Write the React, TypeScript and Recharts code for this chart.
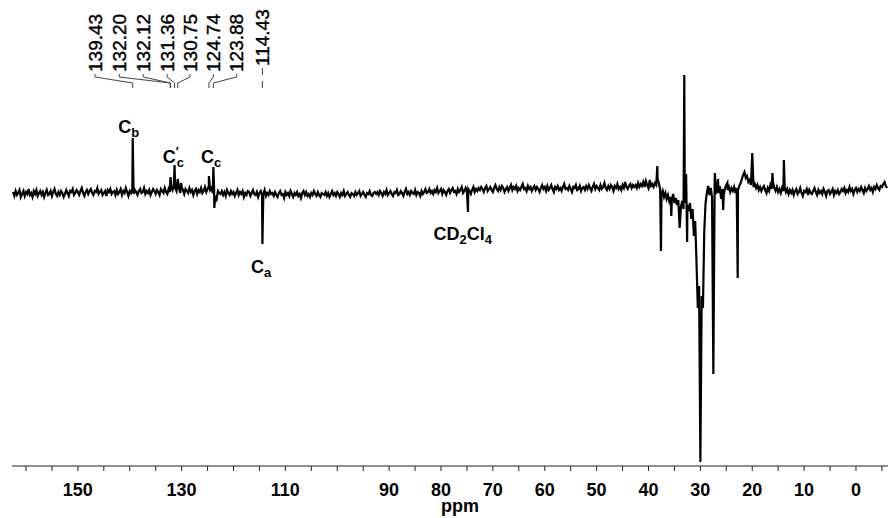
import React from "react";
import {
  LineChart,
  Line,
  XAxis,
  YAxis,
  ReferenceLine,
  ReferenceDot,
} from "recharts";

// 13C spectrum, baseline read every 0.25 ppm from 162.5 down to -6.0 (arbitrary intensity units)
const NOISE_START = 162.5;
const NOISE_STEP = 0.25;
const baseline = [
  // 162.5 -> 152.75
  -1, -5, 0, -4, -2, 1, -6, -3, 0, -5, -1, -3, 2, -4, -2, -6, 0, -3, 1, -5,
  -2, 0, -4, -1, -6, -2, 1, -4, -3, 0, -5, -1, 2, -3, -5, -1, -4, 0, -2, -6,
  // 152.5 -> 142.75
  -3, 1, -2, -5, 0, -1, 2, -4, -2, 1, -1, -4, 0, 3, -2, -5, -1, 1, -3, 0,
  2, -2, -4, 0, -1, 3, -3, -1, 1, -4, -2, 0, -5, 1, -1, 2, -3, -1, 0, -4,
  // 142.5 -> 132.75
  1, -3, -1, 2, -4, 0, -2, 3, -1, -5, 0, -2, 2, -3, 1, -1, -4, 0, 2, -2,
  -1, 3, -3, 0, -2, 1, -4, -1, 2, 0, -3, 1, -1, -4, 2, 0, -2, 3, -1, -3,
  // 132.5 -> 122.75
  2, -1, 4, 1, 6, 3, 0, 5, 2, -2, 4, 1, -3, 2, 0, -2, 3, -1, 1, -4,
  0, 2, -3, 1, -1, 3, -2, 0, 4, -1, 2, 5, 1, 3, -2, 4, -5, -8, 0, -2,
  // 122.5 -> 112.75
  -3, 0, -4, -1, -5, 1, -2, -4, 0, -3, -1, -5, -2, 1, -4, -1, -3, 0, -6, -2,
  -4, 0, -1, -5, -2, 1, -3, -4, -1, -6, -2, 0, -4, -3, 1, -5, -2, -4, 0, -3,
  // 112.5 -> 102.75
  -2, -5, -1, -4, -6, -2, 0, -4, -3, -7, -1, -4, -2, -5, 0, -3, -6, -2, -4, -1,
  -5, -3, -7, -2, 0, -4, -1, -5, -3, -6, -2, -4, 0, -3, -5, -1, -4, -6, -2, -3,
  // 102.5 -> 92.75
  -4, -1, -5, -2, -6, -3, 0, -4, -2, -5, -1, -3, -6, -2, -4, 0, -5, -3, -1, -4,
  -6, -2, -3, -5, -1, -4, -2, 0, -5, -3, -1, -4, -6, -2, -3, 0, -4, -5, -2, -1,
  // 92.5 -> 82.75
  -3, -1, -4, 0, -2, -5, -1, -3, 1, -4, -2, 0, -3, -5, -1, -2, 1, -4, -3, 0,
  -2, -5, -1, 2, -3, -1, -4, 0, -2, -3, 1, -4, -1, -2, -5, 0, -3, -1, 2, -2,
  // 82.5 -> 72.75
  -1, 2, -2, 0, -3, 1, -1, 3, -2, 0, 2, -3, 1, -1, -4, 0, 2, -2, 1, 3,
  -1, 0, -3, 2, -1, 1, 4, -2, 0, 3, -1, 2, 0, -3, 1, 4, -1, 2, 0, 3,
  // 72.5 -> 62.75
  1, 4, 2, -1, 3, 5, 0, 2, 4, 1, -1, 3, 6, 2, 0, 4, 1, 5, 3, -1,
  2, 4, 0, 3, 6, 1, 4, 2, 5, 0, 3, 1, 4, 7, 2, 3, 0, 5, 2, 4,
  // 62.5 -> 52.75
  0, 3, 5, 1, 4, 2, -1, 3, 6, 2, 4, 0, 5, 1, 3, 6, 2, -1, 4, 2,
  5, 1, 3, 0, 4, 7, 2, 3, 1, 5, 2, -1, 4, 3, 6, 1, 2, 5, 0, 3,
  // 52.5 -> 42.75
  4, 1, 5, 2, 6, 3, 0, 4, 7, 2, 5, 3, 1, 6, 2, 4, 8, 3, 1, 5,
  2, 6, 4, 0, 5, 3, 7, 2, 4, 1, 6, 3, 9, 4, 2, 5, 7, 3, 6, 4,
  // 42.5 -> 32.75
  6, 3, 8, 4, 7, 5, 9, 4, 10, 6, 3, 11, 5, 7, 4, 8, 6, 12, 8, 2,
  -4, 0, -6, -2, -8, -4, -10, -6, -9, -3, -12, -7, -14, -9, -12, -16, -10, -18, -12, -8,
  // 32.5 -> 22.75
  -14, -20, -12, -28, -18, -45, -30, -70, -116, -95, -110, -105, -116, -40, -12, -2, 5, -4, 3, -6,
  2, 6, -3, 4, -2, 5, -8, 2, -4, 3, 6, 1, 4, -1, 3, 0, 4, -2, 3, 1,
  // 22.5 -> 12.75
  5, 8, 12, 16, 19, 13, 15, 9, 11, 6, 8, 4, 7, 3, 6, 1, 4, 0, 3, 5,
  1, -2, 3, 0, 6, 2, 9, 3, 0, 4, -1, 2, -2, 3, 0, 4, -1, 2, -3, 1,
  // 12.5 -> 2.75
  -2, 1, -4, 0, 2, -3, -1, 3, -2, -5, 0, -1, 2, -4, 1, -2, -3, 0, 3, -1,
  -4, 1, -2, 0, -3, 2, -1, -5, 0, 1, -3, -1, 2, -4, 0, -2, 1, -3, -1, 2,
  // 2.5 -> -6.0
  0, 3, -2, 1, -1, 4, 0, 2, -3, 1, 3, -1, 2, 0, 4, 1, -2, 3, 0, 2,
  5, 1, 3, -1, 4, 2, 6, 3, 1, 5, 4, 7, 9, 5, 3,
];

// resolved lines (ppm, intensity)
const peakPpm = [
  139.43, 132.2, 132.12, 131.36, 130.75, 130.1, 124.74, 123.88, 123.7, 114.43,
  74.8, 38.3, 37.6, 35.6, 34.0, 33.1, 32.75, 32.55, 30.35, 30.0, 29.65, 27.5,
  27.2, 26.6, 25.6, 24.8, 22.8, 20.0, 16.1, 13.9,
];
const peakHeight = [
  53, 10, 14, 26, 12, 8, 15, 24, -17, -53,
  -21, 25, -60, -25, -37, 116, 17, -51, -116, -271, -116, -183,
  18, 12, -19, 8, -87, 38, 18, 31,
];

const axisTicks = [
  160, 155, 150, 145, 140, 135, 130, 125, 120, 115, 110, 105, 100, 95, 90, 85,
  80, 75, 70, 65, 60, 55, 50, 45, 40, 35, 30, 25, 20, 15, 10, 5, 0, -5,
];
const tickLabels = [150, 130, 110, 90, 80, 70, 60, 50, 40, 30, 20, 10, 0];

// shift labels above the aromatic region
const shiftLabels = ["139.43", "132.20", "132.12", "131.36", "130.75", "124.74", "123.88", "114.43"];
const shiftLabelPpm = [146.7, 142.0, 137.4, 132.8, 128.4, 123.9, 119.4, 114.43];

const spectrum = (() => {
  const pts = baseline
    .map((v, i) => ({ ppm: NOISE_START - i * NOISE_STEP, value: v }))
    .filter((p) => !peakPpm.some((q) => Math.abs(q - p.ppm) < 0.01));
  peakPpm.forEach((p, i) => pts.push({ ppm: p, value: peakHeight[i] }));
  return pts.sort((a, b) => b.ppm - a.ppm);
})();

const FONT = "'Liberation Sans', Arial, sans-serif";

const labelText = (content: React.ReactNode) => (p: any) => (
  <text
    x={p.cx}
    y={p.cy}
    textAnchor="middle"
    fontFamily={FONT}
    fontWeight="bold"
    fontSize={18}
    fill="#000"
  >
    {content}
  </text>
);

const App = () => {
  const foot = 117;
  const bend1 = 114;
  const bend2 = 108;
  const tip = 103;

  return (
    <div style={{ position: "absolute", left: 0, top: 0, background: "#fff" }}>
      <LineChart
        width={888}
        height={518}
        data={spectrum}
        margin={{ top: 0, right: 0, left: 12, bottom: 0 }}
      >
        <XAxis
          type="number"
          dataKey="ppm"
          domain={[-6.17, 162.7]}
          reversed
          allowDataOverflow
          ticks={axisTicks}
          interval={0}
          tickFormatter={(v: number) => (tickLabels.includes(v) ? String(v) : "")}
          height={52}
          tickSize={5}
          tickMargin={12}
          stroke="#222"
          tick={{ fontSize: 18, fontWeight: 700, fill: "#000", fontFamily: FONT }}
          label={{
            value: "ppm",
            position: "insideBottom",
            offset: 6,
            dx: 10,
            fill: "#000",
            fontSize: 18,
            fontWeight: 700,
            fontFamily: FONT,
          }}
        />
        <YAxis type="number" domain={[-275, 191]} hide allowDataOverflow />

        {shiftLabels.map((t, i) => {
          const lx = shiftLabelPpm[i];
          const px = Number(t);
          const straight = Math.abs(lx - px) < 0.01;
          return (
            <React.Fragment key={t}>
              <ReferenceDot
                x={lx}
                y={straight ? foot + 8 : foot + 2}
                r={0}
                ifOverflow="visible"
                shape={(p: any) => (
                  <text
                    transform={`translate(${p.cx},${p.cy}) rotate(-90)`}
                    dy="0.36em"
                    fontFamily={FONT}
                    fontSize={19}
                    fill="#000"
                    stroke="#000"
                    strokeWidth={0.4}
                  >
                    {t}
                  </text>
                )}
              />
              {straight ? (
                <>
                  <ReferenceLine
                    segment={[{ x: px, y: foot + 6 }, { x: px, y: foot - 1 }]}
                    stroke="#444"
                    ifOverflow="visible"
                  />
                  <ReferenceLine
                    segment={[{ x: px, y: bend2 + 2 }, { x: px, y: tip }]}
                    stroke="#444"
                    ifOverflow="visible"
                  />
                </>
              ) : (
                <>
                  <ReferenceLine
                    segment={[{ x: lx, y: foot }, { x: lx, y: bend1 }]}
                    stroke="#444"
                    ifOverflow="visible"
                  />
                  <ReferenceLine
                    segment={[{ x: lx, y: bend1 }, { x: px, y: bend2 }]}
                    stroke="#444"
                    ifOverflow="visible"
                  />
                  <ReferenceLine
                    segment={[{ x: px, y: bend2 }, { x: px, y: tip }]}
                    stroke="#444"
                    ifOverflow="visible"
                  />
                </>
              )}
            </React.Fragment>
          );
        })}

        <ReferenceDot x={140.2} y={58} r={0} ifOverflow="visible"
          shape={labelText(<><tspan>C</tspan><tspan fontSize={13} dy={4}>b</tspan></>)} />
        <ReferenceDot x={131.6} y={28} r={0} ifOverflow="visible"
          shape={labelText(
            <>
              <tspan>C</tspan>
              <tspan fontSize={12} dy={-7}>′</tspan>
              <tspan fontSize={13} dx={-2} dy={11}>c</tspan>
            </>
          )} />
        <ReferenceDot x={124.3} y={28} r={0} ifOverflow="visible"
          shape={labelText(<><tspan>C</tspan><tspan fontSize={13} dy={4}>c</tspan></>)} />
        <ReferenceDot x={114.7} y={-82} r={0} ifOverflow="visible"
          shape={labelText(<><tspan>C</tspan><tspan fontSize={13} dy={4}>a</tspan></>)} />
        <ReferenceDot x={75.8} y={-49} r={0} ifOverflow="visible"
          shape={labelText(
            <>
              <tspan>CD</tspan>
              <tspan fontSize={13} dy={4}>2</tspan>
              <tspan dy={-4}>Cl</tspan>
              <tspan fontSize={13} dy={4}>4</tspan>
            </>
          )} />

        <Line
          type="linear"
          dataKey="value"
          stroke="#000"
          strokeWidth={2.2}
          dot={false}
          activeDot={false}
          isAnimationActive={false}
        />
      </LineChart>
    </div>
  );
};

export default App;
